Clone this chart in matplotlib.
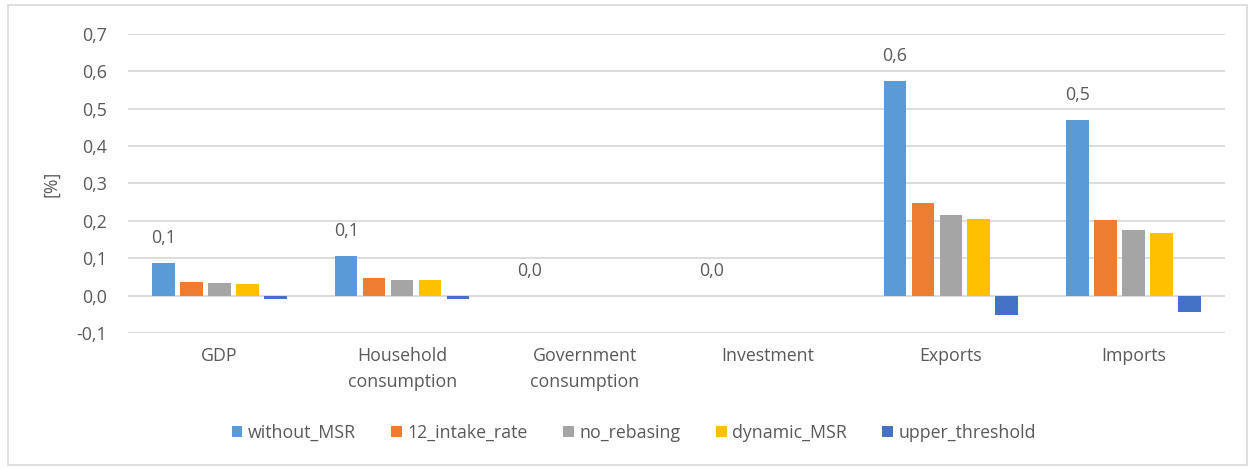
import matplotlib.pyplot as plt
from matplotlib.ticker import FuncFormatter, MultipleLocator
from matplotlib.patches import Rectangle
import numpy as np

categories = ["GDP", "Household\nconsumption", "Government\nconsumption",
              "Investment", "Exports", "Imports"]
series_names = ["without_MSR", "12_intake_rate", "no_rebasing",
                "dynamic_MSR", "upper_threshold"]
without_msr = [0.086, 0.105, 0.0, 0.0, 0.575, 0.471]
intake_rate_12 = [0.037, 0.048, 0.0, 0.0, 0.249, 0.203]
no_rebasing = [0.033, 0.043, 0.0, 0.0, 0.217, 0.176]
dynamic_msr = [0.030, 0.041, 0.0, 0.0, 0.206, 0.168]
upper_threshold = [-0.008, -0.009, 0.0, 0.0, -0.053, -0.045]
colors = ["#5B9BD5", "#ED7D31", "#A5A5A5", "#FFC000", "#4472C4"]

series = [without_msr, intake_rate_12, no_rebasing, dynamic_msr, upper_threshold]

plt.rcParams['font.family'] = ['Open Sans', 'DejaVu Sans']
text_color = "#595959"
fs = 12.8

fig = plt.figure(figsize=(12.55, 4.68), dpi=100)
ax = fig.add_axes([0.102, 0.2885, 0.874, 0.6389])

# outer frame
fig.patches.append(Rectangle((0.006, 0.006), 0.988, 0.983, transform=fig.transFigure,
                             fill=False, edgecolor="#D9D9D9", linewidth=1.2))

x = np.arange(len(categories))
slot = 0.153
bar_w = 0.122
for i, (vals, name, c) in enumerate(zip(series, series_names, colors)):
    offs = (i - 2) * slot
    ax.bar(x + offs, vals, width=bar_w, color=c, label=name, zorder=3)

# value labels on the first series
for xi, v in zip(x, without_msr):
    ax.annotate(f"{v:.1f}".replace(".", ","), xy=(xi - 2 * slot, max(v, 0)),
                xytext=(0, 18), textcoords="offset points", ha="center", va="center",
                fontsize=fs, color=text_color)

ax.set_xlim(-0.5, len(categories) - 0.5)
ax.set_ylim(-0.1, 0.7)
ax.yaxis.set_major_locator(MultipleLocator(0.1))
ax.yaxis.set_major_formatter(FuncFormatter(lambda v, p: f"{v:.1f}".replace(".", ",")))
ax.grid(axis="y", color="#D9D9D9", linewidth=1.3, zorder=0)
ax.set_axisbelow(True)
for s in ax.spines.values():
    s.set_visible(False)
ax.tick_params(axis="both", length=0, labelsize=fs, colors=text_color)
ax.tick_params(axis="y", pad=15)
ax.tick_params(axis="x", pad=10)
ax.set_xticks(x)
ax.set_xticklabels(categories, linespacing=1.55, va="top")
ax.set_ylabel("[%]", fontsize=fs, color=text_color, labelpad=12)

leg = fig.legend(loc="center", bbox_to_anchor=(0.505, 0.075), ncol=5, frameon=False,
                 fontsize=fs, handlelength=0.6, handleheight=0.6, handletextpad=0.3,
                 columnspacing=2.0, labelcolor=text_color)

fig.savefig("out.png", dpi=100)
